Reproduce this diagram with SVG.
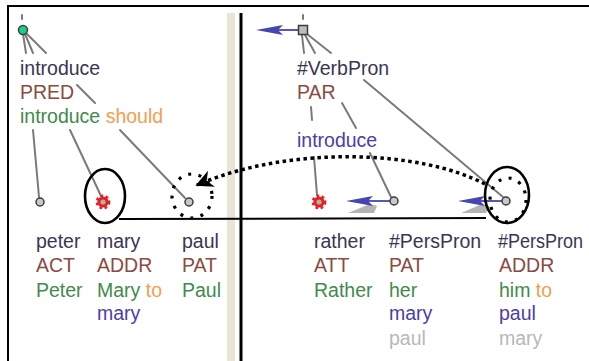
<svg xmlns="http://www.w3.org/2000/svg" width="589" height="361" viewBox="0 0 589 361">
  <style>
    text { font-family: "Liberation Sans", Arial, sans-serif; font-size: 19.5px; }
    .lem { fill: #3a3552; }
    .fun { fill: #8b4a42; }
    .frm { fill: #3f8a4c; }
    .aux { fill: #f0a050; }
    .ref { fill: #4a40a8; }
    .ref2 { fill: #b8b8b8; }
    .edge { stroke: #7a7a7a; stroke-width: 2; fill: none; stroke-linecap: round; }
    .node { fill: #c8c8c8; stroke: #3c3c3c; stroke-width: 1.5; }
    .blue { stroke: #4646ae; stroke-width: 1.8; fill: none; }
    .bluehead { fill: #4646ae; }
    .shade { fill: #b4b4b4; }
    .ring { fill: none; stroke: #000; stroke-width: 2.6; }
    .dots { fill: none; stroke: #000; stroke-width: 3.2; stroke-dasharray: 3 7.5; }
    .gear { fill: #e42222; stroke: #e42222; stroke-width: 3.6; stroke-dasharray: 2.4 2.3; }
  </style>
  <defs>
    <marker id="coref-head" viewBox="0 0 10 10" refX="9" refY="5" markerWidth="5" markerHeight="5" orient="auto" markerUnits="strokeWidth">
      <path d="M0,0 L10,5 L0,10 L3,5 Z" fill="#000"/>
    </marker>
    <g id="blue-arrow">
      <path d="M0,0 L27,-5 L22,0 L27,5 Z" class="bluehead"/>
    </g>
  </defs>

  <rect width="589" height="361" fill="#fff"/>

  <!-- frame and panel divider -->
  <g id="frame">
    <line x1="8" y1="6" x2="589" y2="6" stroke="#000" stroke-width="2"/>
    <line x1="8" y1="5" x2="8" y2="361" stroke="#000" stroke-width="2"/>
    <rect x="227" y="13" width="8" height="348" fill="#e9e5d6"/>
    <line x1="241" y1="13" x2="241" y2="361" stroke="#000" stroke-width="3"/>
  </g>

  <!-- connectors -->
  <g id="connectors">
    <!-- left tree: root to children (broken where labels sit) -->
    <line class="edge" x1="22" y1="15" x2="22" y2="19" stroke-width="1.2"/>
    <line class="edge" x1="23" y1="34" x2="26" y2="53"/>
    <line class="edge" x1="33" y1="130" x2="39" y2="197"/>
    <line class="edge" x1="25" y1="34" x2="33" y2="53"/>
    <line class="edge" x1="70" y1="130" x2="101" y2="196"/>
    <line class="edge" x1="27" y1="34" x2="46" y2="53"/>
    <line class="edge" x1="77" y1="85" x2="95" y2="103"/>
    <line class="edge" x1="120" y1="130" x2="185" y2="198"/>

    <!-- right tree -->
    <line class="edge" x1="303" y1="15" x2="303" y2="19" stroke-width="1.2"/>
    <line class="edge" x1="302" y1="35" x2="304" y2="53"/>
    <line class="edge" x1="311" y1="107" x2="312" y2="120"/>
    <line class="edge" x1="314" y1="157" x2="317" y2="195"/>
    <line class="edge" x1="305" y1="35" x2="315" y2="53"/>
    <line class="edge" x1="342" y1="103" x2="356" y2="128"/>
    <line class="edge" x1="370" y1="153" x2="391" y2="197"/>
    <line class="edge" x1="307" y1="34" x2="331" y2="53"/>
    <line class="edge" x1="364" y1="80" x2="503" y2="197"/>

    <!-- blue pointers with grey shadows -->
    <line class="blue" x1="276" y1="30" x2="299" y2="30"/>
    <use href="#blue-arrow" x="256" y="30"/>
    <path class="shade" d="M348,213 L370,204 L377,206 L374,213 Z"/>
    <line class="blue" x1="366" y1="201" x2="390" y2="201"/>
    <use href="#blue-arrow" x="346" y="201"/>
    <path class="shade" d="M461,213 L482,204 L489,206 L486,213 Z"/>
    <line class="blue" x1="478" y1="201" x2="502" y2="201"/>
    <use href="#blue-arrow" x="458" y="201"/>

    <!-- coreference links -->
    <line x1="119" y1="219" x2="486" y2="218" stroke="#000" stroke-width="2"/>
    <path d="M485,184 C420,150 290,145 197,185" fill="none" stroke="#000" stroke-width="3.5" stroke-dasharray="3.5 3.5" marker-end="url(#coref-head)"/>
    <ellipse class="ring" cx="105" cy="196" rx="20" ry="27"/>
    <ellipse class="dots" cx="192" cy="196" rx="20" ry="22"/>
    <ellipse class="ring" cx="507" cy="195" rx="22" ry="28"/>
    <ellipse class="dots" cx="508" cy="200" rx="18" ry="22"/>
  </g>

  <!-- left tree nodes -->
  <g id="node-introduce">
    <circle cx="23" cy="30" r="4.5" fill="#22cc88" stroke="#2e4a3e" stroke-width="1.5"/>
    <text x="20" y="75" class="lem">introduce</text>
    <text x="20" y="99" class="fun">PRED</text>
    <text x="20" y="123"><tspan class="frm">introduce</tspan> <tspan class="aux">should</tspan></text>
  </g>
  <g id="node-peter">
    <circle class="node" cx="40" cy="202" r="4"/>
    <text x="36" y="248" class="lem">peter</text>
    <text x="36" y="272" class="fun">ACT</text>
    <text x="36" y="297" class="frm">Peter</text>
  </g>
  <g id="node-mary">
    <circle class="gear" cx="103" cy="202" r="5.6"/>
    <circle cx="103" cy="202" r="2.6" fill="#b0b0b0"/>
    <text x="97" y="248" class="lem">mary</text>
    <text x="97" y="272" class="fun">ADDR</text>
    <text x="97" y="297"><tspan class="frm">Mary</tspan> <tspan class="aux">to</tspan></text>
    <text x="97" y="320" class="ref">mary</text>
  </g>
  <g id="node-paul">
    <circle class="node" cx="189" cy="202" r="4"/>
    <text x="182" y="248" class="lem">paul</text>
    <text x="182" y="272" class="fun">PAT</text>
    <text x="182" y="297" class="frm">Paul</text>
  </g>

  <!-- right tree nodes -->
  <g id="node-verbpron">
    <rect x="298.5" y="25.5" width="9" height="9" fill="#bdbdbd" stroke="#3c3c3c" stroke-width="1.5"/>
    <text x="297" y="75" class="lem">#VerbPron</text>
    <text x="297" y="99" class="fun">PAR</text>
    <text x="297" y="147" class="ref">introduce</text>
  </g>
  <g id="node-rather">
    <circle class="gear" cx="319" cy="202" r="5.6"/>
    <circle cx="319" cy="202" r="2.6" fill="#b0b0b0"/>
    <text x="314" y="248" class="lem">rather</text>
    <text x="314" y="272" class="fun">ATT</text>
    <text x="314" y="297" class="frm">Rather</text>
  </g>
  <g id="node-perspron-pat">
    <circle class="node" cx="394" cy="201" r="4"/>
    <text x="389" y="248" class="lem">#PersPron</text>
    <text x="389" y="272" class="fun">PAT</text>
    <text x="389" y="297" class="frm">her</text>
    <text x="389" y="320" class="ref">mary</text>
    <text x="389" y="345" class="ref2">paul</text>
  </g>
  <g id="node-perspron-addr">
    <circle class="node" cx="506" cy="201" r="4"/>
    <text x="498" y="248" class="lem" textLength="85" lengthAdjust="spacingAndGlyphs">#PersPron</text>
    <text x="499" y="272" class="fun">ADDR</text>
    <text x="499" y="297"><tspan class="frm">him</tspan> <tspan class="aux">to</tspan></text>
    <text x="499" y="320" class="ref">paul</text>
    <text x="499" y="345" class="ref2">mary</text>
  </g>
</svg>
